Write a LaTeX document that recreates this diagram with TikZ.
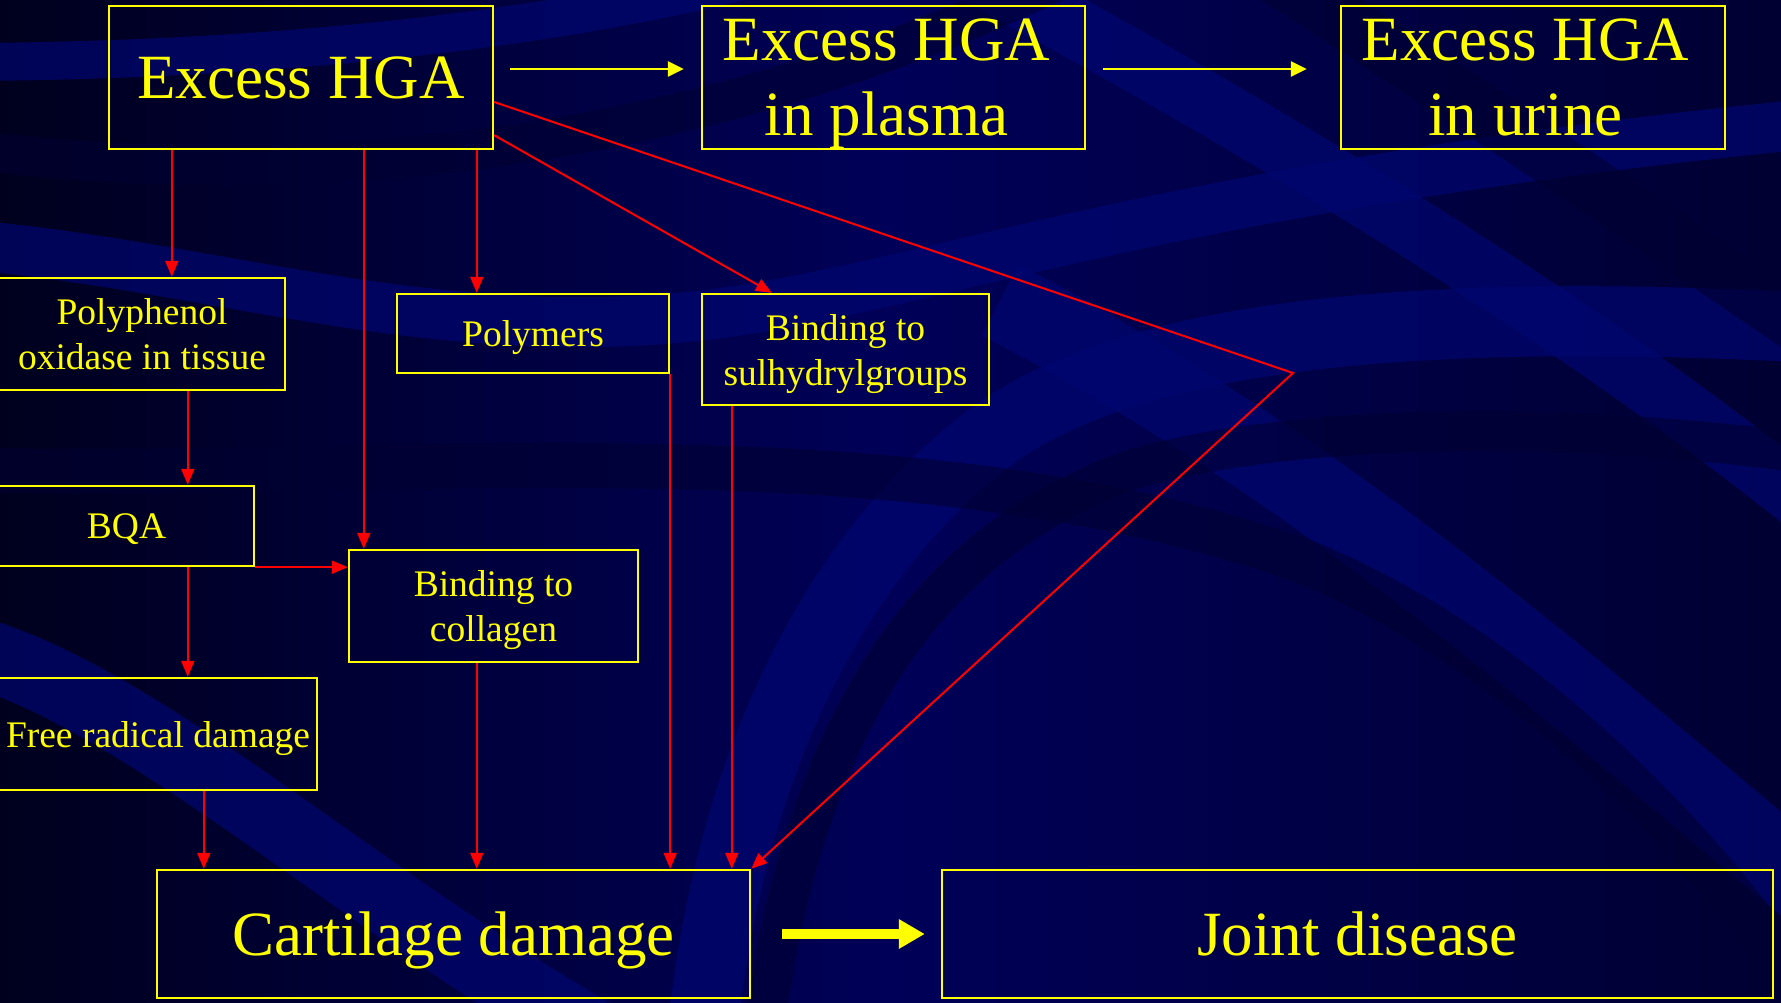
\documentclass[tikz,border=0pt]{standalone}
\usepackage{fontspec}
\setmainfont{Liberation Serif}
\usetikzlibrary{arrows.meta,calc}
\definecolor{bgdark}{RGB}{0,0,30}
\definecolor{bgmid}{RGB}{0,0,88}
\definecolor{bgright}{RGB}{0,0,50}
\definecolor{bglight}{RGB}{0,6,112}
\definecolor{bgshadow}{RGB}{0,0,50}
\definecolor{hlyellow}{RGB}{255,255,0}
\definecolor{hlred}{RGB}{255,0,0}
\tikzset{
  box/.style={draw=hlyellow, line width=2.4pt, text=hlyellow, inner sep=0pt, align=center, text depth=0pt},
  bigtext/.style={font=\fontsize{63}{75}\selectfont},
  smalltext/.style={font=\fontsize{37.5}{45}\selectfont},
  rarrow/.style={hlred, line width=2pt, -{Triangle[length=16pt,width=13pt]}},
  yarrow/.style={hlyellow, line width=2.8pt, -{Triangle[length=16pt,width=15pt]}},
  band/.style={line width=#1, bglight, opacity=0.7},
  shadowband/.style={line width=#1, bgshadow, opacity=0.6}
}
\begin{document}
\begin{tikzpicture}[x=1pt,y=1pt]
\useasboundingbox (0,0) rectangle (1781,-1002);
% ---------- background ----------
\begin{scope}
\clip (0,0) rectangle (1781,-1002);
\shade[left color=bgdark, right color=bgright, middle color=bgmid] (0,0) rectangle (1781,-1002);
% lighter bands
\draw[band=38pt] (-30,-62) .. controls (300,-60) and (600,-25) .. (820,40);
\draw[band=50pt] (-30,-245) .. controls (200,-265) and (400,-335) .. (650,-320) .. controls (900,-305) and (1100,-190) .. (1850,-120);
\draw[band=70pt] (-30,-650) .. controls (150,-700) and (380,-920) .. (640,-1060);
\draw[band=60pt] (950,40) .. controls (1250,-120) and (1600,-330) .. (1850,-540);
\draw[band=80pt] (1000,-300) .. controls (1350,-480) and (1650,-760) .. (1850,-920);
\draw[band=70pt] (700,-1060) .. controls (720,-800) and (820,-560) .. (1000,-430) .. controls (1120,-350) and (1350,-300) .. (1850,-330);
% darker bands
\draw[shadowband=40pt] (-30,-150) .. controls (300,-190) and (700,-160) .. (1100,40);
\draw[shadowband=45pt] (-30,-470) .. controls (400,-480) and (900,-420) .. (1300,-560) .. controls (1500,-640) and (1700,-820) .. (1850,-1060);
\draw[shadowband=40pt] (760,-1060) .. controls (790,-800) and (880,-560) .. (1130,-470) .. controls (1300,-420) and (1600,-420) .. (1850,-460);
\draw[shadowband=55pt] (1250,40) .. controls (1500,-120) and (1700,-260) .. (1850,-360);
\end{scope}
% ---------- nodes ----------
\node[box, bigtext, minimum width=384pt, minimum height=143pt] (hga) at (301,-77.5) {Excess HGA};
\node[box, bigtext, minimum width=383pt, minimum height=143pt] (plasma) at (893.5,-77.5) {Excess HGA\hspace*{14pt}\\in plasma\hspace*{14pt}};
\node[box, bigtext, minimum width=384pt, minimum height=143pt] (urine) at (1533,-77.5) {Excess HGA\hspace*{15pt}\\in urine\hspace*{15pt}};
\node[box, smalltext, minimum width=286pt, minimum height=112pt] (poly) at (142,-334) {Polyphenol\\oxidase in tissue};
\node[box, smalltext, minimum width=272pt, minimum height=79pt] (polym) at (533,-333.5) {Polymers};
\node[box, smalltext, minimum width=287pt, minimum height=111pt] (sulf) at (845.5,-349.5) {Binding to\\sulhydrylgroups};
\node[box, smalltext, minimum width=255pt, minimum height=80pt] (bqa) at (126.5,-526) {BQA};
\node[box, smalltext, minimum width=289pt, minimum height=112pt] (coll) at (493.5,-606) {Binding to\\collagen};
\node[box, smalltext, minimum width=318pt, minimum height=112pt] (free) at (158,-734) {Free radical damage};
\node[box, bigtext, minimum width=593pt, minimum height=128pt] (cart) at (453.5,-934) {Cartilage damage};
\node[box, bigtext, minimum width=831pt, minimum height=128pt] (joint) at (1357.5,-934) {Joint disease};
\coordinate (bend) at (1293,-373);
% ---------- connectors ----------
\draw[yarrow] ([xshift=16pt,yshift=8.5pt]hga.east) -- ([xshift=-17pt,yshift=8.5pt]plasma.west);
\draw[yarrow] ([xshift=16.5pt,yshift=8.5pt]plasma.east) -- ([xshift=-33pt,yshift=8.5pt]urine.west);
\draw[hlyellow, line width=10pt, -{Triangle[length=26pt,width=28pt]}] ([xshift=31pt]cart.east) -- ([xshift=-16pt]joint.west);
\draw[rarrow] ([xshift=64pt]hga.south west) -- ([xshift=64pt]hga.south west |- poly.north);
\draw[rarrow] ([xshift=256pt]hga.south west) -- ([xshift=256pt]hga.south west |- coll.north);
\draw[rarrow] ([xshift=369pt]hga.south west) -- ([xshift=369pt]hga.south west |- polym.north);
\draw[rarrow] ([yshift=15pt]hga.south east) -- ([xshift=71pt]sulf.north west);
\draw[rarrow] ([yshift=-24.5pt]hga.east) -- (bend) -- (cart.north east);
\draw[rarrow] ([xshift=190pt]poly.south west) -- ([xshift=190pt]poly.south west |- bqa.north);
\draw[rarrow] ([xshift=190pt]bqa.south west) -- ([xshift=190pt]bqa.south west |- free.north);
\draw[rarrow] (bqa.south east) -- (bqa.south east -| coll.west);
\draw[rarrow] ([xshift=206pt]free.south west) -- ([xshift=206pt]free.south west |- cart.north);
\draw[rarrow] ([xshift=129pt]coll.south west) -- ([xshift=129pt]coll.south west |- cart.north);
\draw[rarrow] (polym.south east) -- (polym.south east |- cart.north);
\draw[rarrow] ([xshift=31pt]sulf.south west) -- ([xshift=31pt]sulf.south west |- cart.north);
\end{tikzpicture}
\end{document}
